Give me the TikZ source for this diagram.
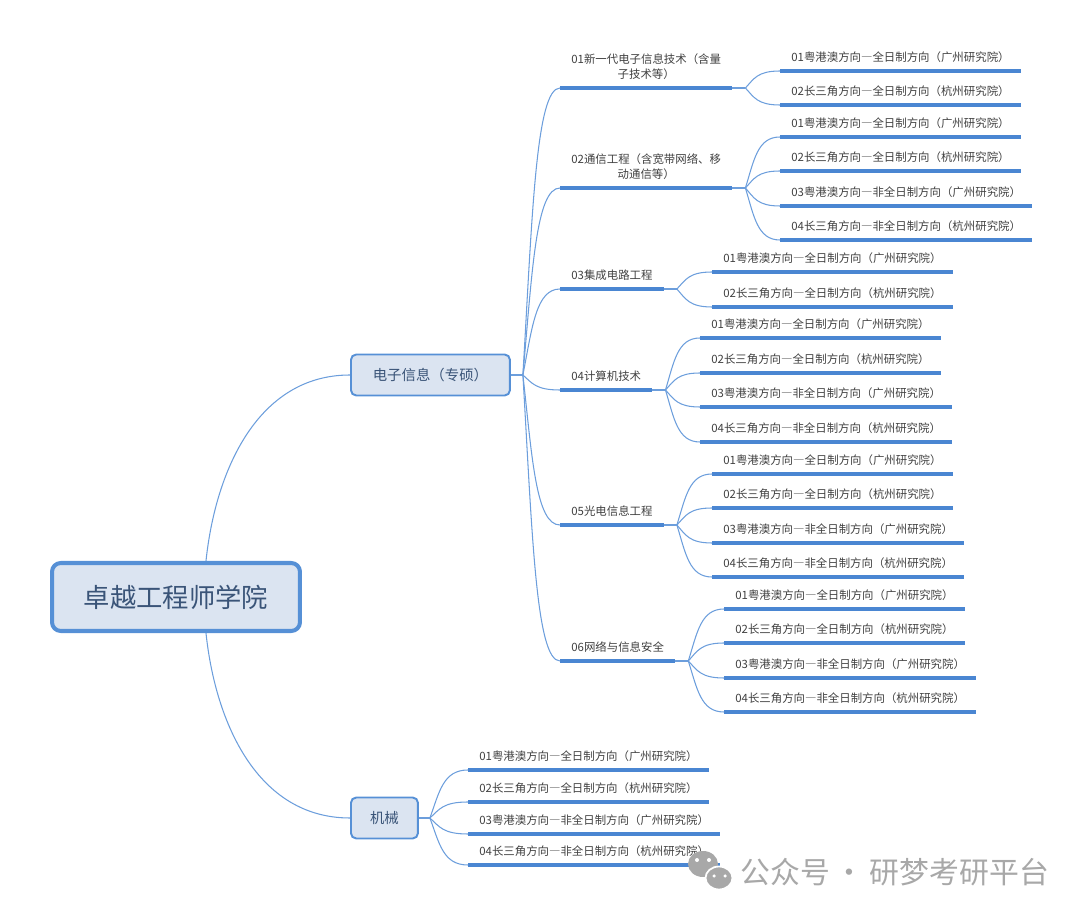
\documentclass[tikz,border=0pt]{standalone}
\usepackage{fontspec}
\setmainfont{Noto Sans CJK SC}
\usepackage{xcolor}
\usepackage{tikz}
\usetikzlibrary{positioning, calc}

\definecolor{boxfill}{HTML}{DBE4F1}
\definecolor{boxline}{HTML}{5690D6}
\definecolor{linkblue}{HTML}{6C9EDC}
\definecolor{barblue}{HTML}{4A86D2}
\definecolor{titletext}{HTML}{3A5478}
\definecolor{leaftext}{HTML}{404040}
\definecolor{marktext}{HTML}{A8A8A8}

% full width dash
\newcommand{\fwdash}{{\addfontfeature{RawFeature=+fwid}—}}

\begin{document}
\begin{tikzpicture}[x=0.02cm, y=-0.02cm,
  root/.style={rectangle, draw=boxline, fill=boxfill, line width=2.3pt, rounded corners=5pt, minimum width=4.96cm, minimum height=1.36cm, font=\fontsize{15}{18}\selectfont, text=titletext},
  topic/.style={rectangle, draw=boxline, fill=boxfill, line width=1.1pt, rounded corners=3pt, minimum height=0.82cm, anchor=west, font=\fontsize{8.2}{10}\selectfont, text=titletext},
  sub/.style={anchor=south west, inner xsep=0.22cm, inner ysep=4.4pt, text height=5.6pt, text depth=0.9pt, align=center, font=\fontsize{6.5}{8.5}\selectfont, text=leaftext},
  leaf/.style={sub},
  link/.style={draw=linkblue, line width=0.6pt},
  bar/.style={draw=barblue, line width=1.8pt},
  branch/.style={to path={let \p1=(\tikztostart), \p2=(\tikztotarget) in
    .. controls ({\x1+0.25*(\x2-\x1)},{\y1+0.55*(\y2-\y1)}) and ({\x1+0.35*(\x2-\x1)},\y2) .. (\tikztotarget)}}
]
\useasboundingbox (0,0) rectangle (1080,915);

%% Root and topics
\node[root] (root) at (176,597) {卓越工程师学院};
\node[topic, minimum width=3.18cm] (ee) at (350,375) {电子信息（专硕）};
\node[topic, minimum width=1.34cm] (mech) at (350,818) {机械};

%% Sub topics
\node[sub] (s1) at (560,88) {01新一代电子信息技术（含量\\子技术等）};
\node[sub] (s2) at (560,188) {02通信工程（含宽带网络、移\\动通信等）};
\node[sub] (s3) at (560,289) {03集成电路工程};
\node[sub] (s4) at (560,390) {04计算机技术};
\node[sub] (s5) at (560,525) {05光电信息工程};
\node[sub] (s6) at (560,661) {06网络与信息安全};

%% Leaves
\node[leaf] (a1) at (780,71) {01粤港澳方向\fwdash 全日制方向（广州研究院）};
\node[leaf] (a2) at (780,105) {02长三角方向\fwdash 全日制方向（杭州研究院）};

\node[leaf] (b1) at (780,137) {01粤港澳方向\fwdash 全日制方向（广州研究院）};
\node[leaf] (b2) at (780,171) {02长三角方向\fwdash 全日制方向（杭州研究院）};
\node[leaf] (b3) at (780,206) {03粤港澳方向\fwdash 非全日制方向（广州研究院）};
\node[leaf] (b4) at (780,240) {04长三角方向\fwdash 非全日制方向（杭州研究院）};

\node[leaf] (c1) at (712,272) {01粤港澳方向\fwdash 全日制方向（广州研究院）};
\node[leaf] (c2) at (712,307) {02长三角方向\fwdash 全日制方向（杭州研究院）};

\node[leaf] (d1) at (700,338) {01粤港澳方向\fwdash 全日制方向（广州研究院）};
\node[leaf] (d2) at (700,373) {02长三角方向\fwdash 全日制方向（杭州研究院）};
\node[leaf] (d3) at (700,407) {03粤港澳方向\fwdash 非全日制方向（广州研究院）};
\node[leaf] (d4) at (700,442) {04长三角方向\fwdash 非全日制方向（杭州研究院）};

\node[leaf] (e1) at (712,474) {01粤港澳方向\fwdash 全日制方向（广州研究院）};
\node[leaf] (e2) at (712,508) {02长三角方向\fwdash 全日制方向（杭州研究院）};
\node[leaf] (e3) at (712,543) {03粤港澳方向\fwdash 非全日制方向（广州研究院）};
\node[leaf] (e4) at (712,577) {04长三角方向\fwdash 非全日制方向（杭州研究院）};

\node[leaf] (f1) at (724,609) {01粤港澳方向\fwdash 全日制方向（广州研究院）};
\node[leaf] (f2) at (724,643) {02长三角方向\fwdash 全日制方向（杭州研究院）};
\node[leaf] (f3) at (724,678) {03粤港澳方向\fwdash 非全日制方向（广州研究院）};
\node[leaf] (f4) at (724,712) {04长三角方向\fwdash 非全日制方向（杭州研究院）};

\node[leaf] (m1) at (468,770) {01粤港澳方向\fwdash 全日制方向（广州研究院）};
\node[leaf] (m2) at (468,802) {02长三角方向\fwdash 全日制方向（杭州研究院）};
\node[leaf] (m3) at (468,834) {03粤港澳方向\fwdash 非全日制方向（广州研究院）};
\node[leaf] (m4) at (468,865) {04长三角方向\fwdash 非全日制方向（杭州研究院）};

%% Underlines
\foreach \nd in {s1,s2,s3,s4,s5,s6,a1,a2,b1,b2,b3,b4,c1,c2,d1,d2,d3,d4,e1,e2,e3,e4,f1,f2,f3,f4,m1,m2,m3,m4}
  \draw[bar] (\nd.south west) -- (\nd.south east);

%% Root links
\draw[link] ([xshift=0.6cm]root.north) to[out=84, in=180] (ee.west);
\draw[link] ([xshift=0.6cm]root.south) to[out=-84, in=180] (mech.west);

%% Topic forks
\coordinate (fee) at ([xshift=0.24cm]ee.east);
\draw[link] (ee.east) -- (fee);
\foreach \nd in {s1,s2,s3,s4,s5,s6}
  \draw[link] (fee) to[branch] (\nd.south west);

\coordinate (fmech) at ([xshift=0.22cm]mech.east);
\draw[link] (mech.east) -- (fmech);
\foreach \nd in {m1,m2,m3,m4}
  \draw[link] (fmech) to[branch] (\nd.south west);

%% Sub topic forks
\foreach \sb/\kids in {s1/{a1,a2}, s2/{b1,b2,b3,b4}, s3/{c1,c2}, s4/{d1,d2,d3,d4}, s5/{e1,e2,e3,e4}, s6/{f1,f2,f3,f4}} {
  \coordinate (f\sb) at ([xshift=0.26cm]\sb.south east);
  \draw[link] (\sb.south east) -- (f\sb);
  \foreach \kd in \kids
    \draw[link] (f\sb) to[branch] (\kd.south west);
}

%% Watermark
\fill[marktext] (703,864) ellipse (0.3cm and 0.26cm);
\filldraw[fill=marktext, draw=white, line width=1pt] (719,878) ellipse (0.27cm and 0.23cm);
\fill[white] (697,860) circle (0.04cm) (709,860) circle (0.04cm);
\fill[white] (714,876) circle (0.035cm) (725,876) circle (0.035cm);
\node[anchor=west, inner sep=0, text=marktext, font=\fontsize{17}{20}\selectfont] (wm) at (740,872) {公众号\hspace{0.1cm}·\hspace{0.1cm}研梦考研平台};

\end{tikzpicture}
\end{document}
